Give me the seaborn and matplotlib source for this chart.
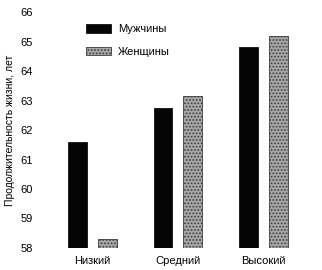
import pandas as pd
import numpy as np
import matplotlib
matplotlib.use('Agg')
import matplotlib.pyplot as plt
import seaborn as sns
from matplotlib import font_manager

# data
levels = ['Низкий', 'Средний', 'Высокий']
men = [61.6, 62.75, 64.8]
women = [58.3, 63.15, 65.2]
sex_labels = ['Мужчины', 'Женщины']

df = pd.DataFrame({
    'level': levels * 2,
    'value': men + women,
    'sex': [sex_labels[0]] * 3 + [sex_labels[1]] * 3,
})

sns.set_style('white')
names = {f.name for f in font_manager.fontManager.ttflist}
fam = 'Liberation Sans Narrow' if 'Liberation Sans Narrow' in names else 'Liberation Sans'
plt.rcParams['font.family'] = [fam, 'DejaVu Sans']
plt.rcParams['hatch.linewidth'] = 0.8
plt.rcParams.update({'text.color': 'black', 'axes.labelcolor': 'black',
                     'xtick.color': 'black', 'ytick.color': 'black'})

fig = plt.figure(figsize=(3.22, 2.70), dpi=100)
ax = fig.add_axes([0.155, 0.0815, 0.795, 0.874])

sns.barplot(data=df, x='level', y='value', hue='sex', order=levels,
            hue_order=sex_labels, palette=['#050505', '#a8a8a8'],
            width=0.7, gap=0.37, ax=ax, legend=True)


def texture(p):
    # dark bars plain, grey bars stippled
    if p.get_facecolor()[0] < 0.2:
        p.set_edgecolor('#111111')
    else:
        p.set_edgecolor('#3a3a3a')
        p.set_hatch('.....')
    p.set_linewidth(0.6)


for bar in ax.patches:
    if bar.get_height() != 0:
        texture(bar)

ax.set_ylim(58, 66)
ax.set_xlim(-0.5, 2.5)
ax.set_yticks(np.arange(58, 67, 1))
ax.tick_params(axis='both', length=0, labelsize=8)
ax.tick_params(axis='x', pad=6)
ax.tick_params(axis='y', pad=12)
ax.set_xlabel('')
ax.set_ylabel('Продолжительность жизни, лет', fontsize=7.5, labelpad=4)
for s in ax.spines.values():
    s.set_visible(False)

leg = ax.legend(loc='upper left', bbox_to_anchor=(0.1, 0.99), frameon=False,
                fontsize=8, handlelength=2.3, handleheight=0.75,
                labelspacing=1.15, handletextpad=0.6)
for h in leg.legend_handles:
    texture(h)

fig.savefig('out.png', dpi=100)
